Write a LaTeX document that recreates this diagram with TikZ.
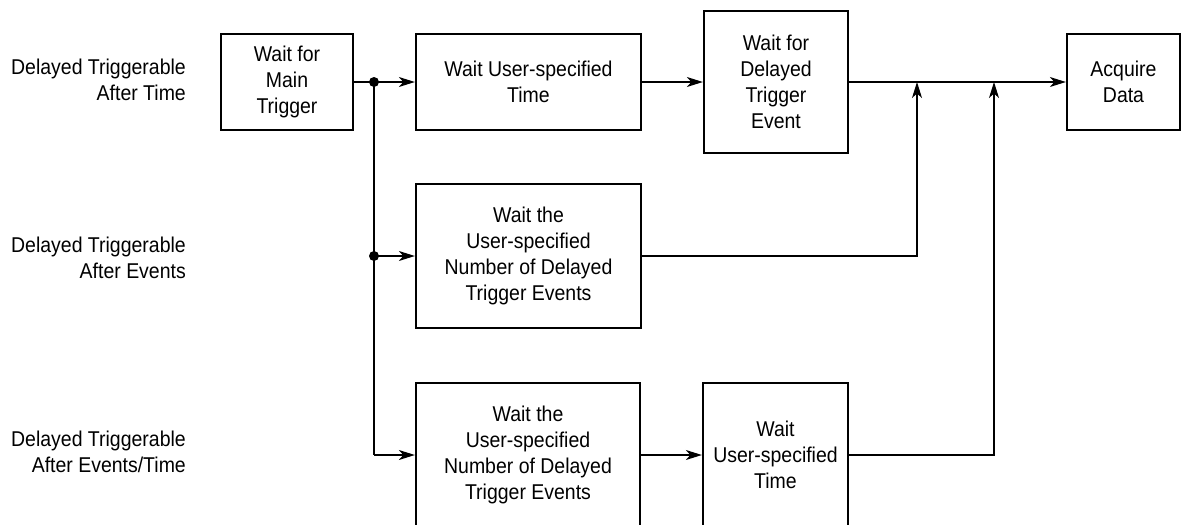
\documentclass[tikz,border=0pt]{standalone}
\usepackage{fontspec}
\setmainfont{Liberation Sans}[FakeStretch=0.91]
\usetikzlibrary{arrows.meta}
\newcommand\diagfont{\fontsize{21.4}{26}\selectfont}
\begin{document}
\begin{tikzpicture}[x=1pt,y=-1pt,
  box/.style={draw, line width=2.3pt, inner sep=0pt, align=center, font=\diagfont},
  lab/.style={inner sep=0pt, align=right, anchor=east, font=\diagfont},
  conn/.style={line width=1.2pt},
  arr/.style={conn, -{Stealth[length=16pt, width=10pt, inset=4.5pt]}},
  dot/.style={fill=black}
]
\useasboundingbox (0,0) rectangle (1184,525);
\clip (0,0) rectangle (1184,525);

% left labels
\node[lab] (l1) at (186,80) {Delayed Triggerable\\After Time};
\node[lab] (l2) at (186,258) {Delayed Triggerable\\After Events};
\node[lab] (l3) at (186,452) {Delayed Triggerable\\After Events/Time};

% boxes
\node[box, minimum width=132pt, minimum height=96pt] (A) at (287,82) {Wait for\\Main\\Trigger};
\node[box, minimum width=225pt, minimum height=96pt] (B) at (528.5,82) {Wait User-specified\\Time};
\node[box, minimum width=144pt, minimum height=142pt] (C) at (776,82) {Wait for\\Delayed\\Trigger\\Event};
\node[box, minimum width=113pt, minimum height=96pt] (D) at (1123.5,82) {Acquire\\Data};
\node[box, minimum width=225pt, minimum height=144pt] (M) at (528.5,256) {Wait the\\User-specified\\Number of Delayed\\Trigger Events};
\node[box, minimum width=224pt, minimum height=144pt] (E) at (528,455) {Wait the\\User-specified\\Number of Delayed\\Trigger Events};
\node[box, minimum width=145pt, minimum height=144pt] (F) at (775.5,455) {Wait\\User-specified\\Time};

% junction coordinates
\coordinate (j1) at (374,82);
\coordinate (j2) at (374,256);
\coordinate (j3) at (374,455);
\coordinate (m1) at (917,82);
\coordinate (m2) at (994,82);

% connectors
\draw[conn] (A.east) -- (j1);
\draw[arr] (j1) -- (B.west);
\draw[arr] (B.east) -- (C.west);
\draw[arr] (C.east) -- (D.west);
\draw[conn] (j1) -- (j3);
\draw[arr] (j2) -- (M.west);
\draw[arr] (j3) -- (E.west);
\draw[arr] (E.east) -- (F.west);
\draw[arr] (M.east) -| (m1);
\draw[arr] (F.east) -| (m2);

\fill[dot] (j1) circle[radius=5pt];
\fill[dot] (j2) circle[radius=5pt];
\end{tikzpicture}
\end{document}
